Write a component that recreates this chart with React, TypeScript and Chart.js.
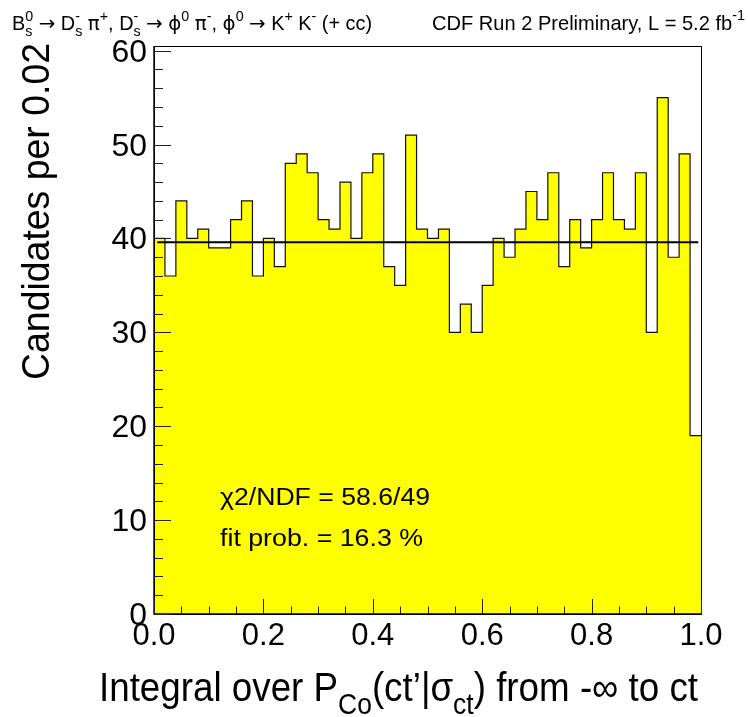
import React, { useEffect, useRef } from 'react';
import { Chart, registerables } from 'chart.js';

Chart.register(...registerables);

// ---------------- data ----------------
const X_MIN = 0;
const X_MAX = 1;
const Y_MAX = 60.5;
const binCounts = [
  40, 36, 44, 40, 41, 39, 39, 42, 44, 36,
  40, 37, 48, 49, 47, 42, 41, 46, 40, 47,
  49, 37, 35, 51, 41, 40, 41, 30, 33, 30,
  35, 40, 38, 41, 45, 42, 47, 37, 42, 39,
  42, 47, 42, 41, 47, 30, 55, 38, 49, 19,
];
const fitValue = 39.6;
const fitRange = [0.006, 0.995];
const xTickValues = [0, 0.2, 0.4, 0.6, 0.8, 1.0];
const xTickLabels = ['0.0', '0.2', '0.4', '0.6', '0.8', '1.0'];
const yTickValues = [0, 10, 20, 30, 40, 50, 60];
const yTickLabels = ['0', '10', '20', '30', '40', '50', '60'];
const fitTextLines = ['\u03c72/NDF = 58.6/49', 'fit prob. = 16.3 %'];

type Seg = { t?: string; sub?: string; sup?: string; f?: string };

const SYM = '"DejaVu Sans", "Liberation Sans", sans-serif';

const headerLeft: Seg[] = [
  { t: 'B' }, { sub: 's', sup: '0' },
  { t: ' ' }, { t: '\u2192', f: SYM }, { t: ' D' }, { sub: 's', sup: '-' },
  { t: ' ' }, { t: '\u03c0', f: SYM }, { sup: '+' },
  { t: ', D' }, { sub: 's', sup: '-' },
  { t: ' ' }, { t: '\u2192', f: SYM }, { t: ' ' }, { t: '\u03d5', f: SYM }, { sup: '0' },
  { t: ' ' }, { t: '\u03c0', f: SYM }, { sup: '-' },
  { t: ', ' }, { t: '\u03d5', f: SYM }, { sup: '0' },
  { t: ' ' }, { t: '\u2192', f: SYM }, { t: ' K' }, { sup: '+' },
  { t: ' K' }, { sup: '-' },
  { t: ' (+ cc)' },
];
const headerRight: Seg[] = [{ t: 'CDF Run 2 Preliminary, L = 5.2 fb' }, { sup: '-1' }];
const xTitle: Seg[] = [
  { t: 'Integral over P' }, { sub: 'Co' },
  { t: '(ct\u2019|\u03c3' }, { sub: 'ct' },
  { t: ') from -\u221e to ct' },
];
const yTitle: Seg[] = [{ t: 'Candidates per 0.02' }];

const FAMILY = '"Liberation Sans", Arial, Helvetica, sans-serif';

interface RichOpts {
  x: number;
  y: number;
  size: number;
  align?: 'left' | 'right' | 'center';
  width?: number;
  sx?: number;
  rot?: number;
  scriptScale?: number;
  subDrop?: number;
  supRise?: number;
}

function drawRich(ctx: CanvasRenderingContext2D, segs: Seg[], o: RichOpts) {
  const ss = o.scriptScale ?? 0.72;
  const bigF = (f?: string) => `${o.size}px ${f ?? FAMILY}`;
  const small = `${o.size * ss}px ${FAMILY}`;
  const widths: number[] = [];
  let w = 0;
  for (const s of segs) {
    let sw = 0;
    if (s.t !== undefined) {
      ctx.font = bigF(s.f);
      sw = ctx.measureText(s.t).width;
    } else {
      ctx.font = small;
      sw = Math.max(s.sub ? ctx.measureText(s.sub).width : 0, s.sup ? ctx.measureText(s.sup).width : 0);
    }
    widths.push(sw);
    w += sw;
  }
  const sx = o.width ? o.width / w : o.sx ?? 1;
  ctx.save();
  ctx.translate(o.x, o.y);
  if (o.rot) ctx.rotate(o.rot);
  ctx.scale(sx, 1);
  ctx.fillStyle = '#000';
  ctx.textBaseline = 'alphabetic';
  ctx.textAlign = 'left';
  let cx = o.align === 'right' ? -w : o.align === 'center' ? -w / 2 : 0;
  segs.forEach((s, i) => {
    if (s.t !== undefined) {
      ctx.font = bigF(s.f);
      ctx.fillText(s.t, cx, 0);
    } else {
      ctx.font = small;
      if (s.sub) ctx.fillText(s.sub, cx, o.size * (o.subDrop ?? 0.3));
      if (s.sup) ctx.fillText(s.sup, cx, -o.size * (o.supRise ?? 0.42));
    }
    cx += widths[i];
  });
  ctx.restore();
}

const framePlugin = {
  id: 'rootFrame',
  afterDraw(chart: any) {
    const ctx: CanvasRenderingContext2D = chart.ctx;
    const { left, right, top, bottom } = chart.chartArea;
    const xs = chart.scales.x;
    const ys = chart.scales.y;
    ctx.save();
    // frame
    ctx.strokeStyle = '#000';
    ctx.lineWidth = 1;
    ctx.strokeRect(Math.round(left) + 0.5, Math.round(top) + 0.5, Math.round(right - left), Math.round(bottom - top));
    ctx.lineWidth = 1.4;
    ctx.beginPath();
    ctx.moveTo(left, top);
    ctx.lineTo(left, bottom);
    ctx.lineTo(right, bottom);
    ctx.stroke();
    // x ticks (inside)
    ctx.lineWidth = 1;
    ctx.strokeStyle = '#222';
    for (let k = 0; k <= 20; k++) {
      const v = X_MIN + k * 0.05;
      const px = Math.round(xs.getPixelForValue(v)) + 0.5;
      const len = k % 4 === 0 ? 15 : 7.5;
      ctx.beginPath();
      ctx.moveTo(px, bottom);
      ctx.lineTo(px, bottom - len);
      ctx.stroke();
    }
    // y ticks (inside)
    for (let k = 0; k <= 30; k++) {
      const v = k * 2;
      const py = Math.round(ys.getPixelForValue(v)) + 0.5;
      const len = v % 10 === 0 ? 17 : 9;
      ctx.beginPath();
      ctx.moveTo(left, py);
      ctx.lineTo(left + len, py);
      ctx.stroke();
    }
    ctx.restore();

    // tick labels
    xTickValues.forEach((v, i) => {
      drawRich(ctx, [{ t: xTickLabels[i] }], { x: xs.getPixelForValue(v), y: 645, size: 31, align: 'center', sx: 1.0 });
    });
    yTickValues.forEach((v, i) => {
      drawRich(ctx, [{ t: yTickLabels[i] }], { x: left - 7, y: ys.getPixelForValue(v) + 11, size: 31, align: 'right', sx: 1.03 });
    });

    // axis titles
    drawRich(ctx, xTitle, { x: 698, y: 701, size: 40, align: 'right', width: 599, subDrop: 0.32 });
    drawRich(ctx, yTitle, { x: 49, y: 43, size: 38, align: 'right', width: 337, rot: -Math.PI / 2 });

    // headers
    drawRich(ctx, headerLeft, { x: 12, y: 30, size: 20, align: 'left', width: 360, subDrop: 0.3, supRise: 0.45 });
    drawRich(ctx, headerRight, { x: 745, y: 30, size: 21, align: 'right', width: 313, supRise: 0.5 });

    // fit info
    drawRich(ctx, [{ t: fitTextLines[0] }], { x: 220, y: 505, size: 23, align: 'left', width: 210 });
    drawRich(ctx, [{ t: fitTextLines[1] }], { x: 220, y: 546, size: 23, align: 'left', width: 203 });
  },
};

export default function App() {
  const ref = useRef<HTMLCanvasElement | null>(null);
  useEffect(() => {
    document.body.style.margin = '0';
    document.body.style.overflow = 'hidden';
    const canvas = ref.current;
    if (!canvas) return;
    const binW = (X_MAX - X_MIN) / binCounts.length;
    const histPoints = binCounts.map((c, i) => ({ x: X_MIN + i * binW, y: c }));
    histPoints.push({ x: X_MAX, y: binCounts[binCounts.length - 1] });
    const fitPoints = fitRange.map((x) => ({ x, y: fitValue }));

    const chart = new Chart(canvas, {
      type: 'line',
      data: {
        datasets: [
          {
            label: 'fit',
            data: fitPoints,
            borderColor: '#000',
            borderWidth: 2,
            pointRadius: 0,
            fill: false,
          },
          {
            label: 'hist',
            data: histPoints,
            stepped: true,
            borderColor: '#111',
            borderWidth: 1.2,
            backgroundColor: '#ffff00',
            fill: 'origin',
            pointRadius: 0,
          },
        ],
      } as any,
      options: {
        responsive: false,
        animation: false,
        devicePixelRatio: 1,
        layout: { padding: { left: 154, right: 47, top: 46, bottom: 103 } },
        scales: {
          x: { type: 'linear', min: X_MIN, max: X_MAX, display: false },
          y: { type: 'linear', min: 0, max: Y_MAX, display: false },
        },
        plugins: { legend: { display: false }, tooltip: { enabled: false } },
        events: [],
      } as any,
      plugins: [framePlugin],
    });
    return () => chart.destroy();
  }, []);
  return (
    <div style={{ width: 748, height: 717, background: '#fff' }}>
      <canvas ref={ref} width={748} height={717} style={{ display: 'block' }} />
    </div>
  );
}
